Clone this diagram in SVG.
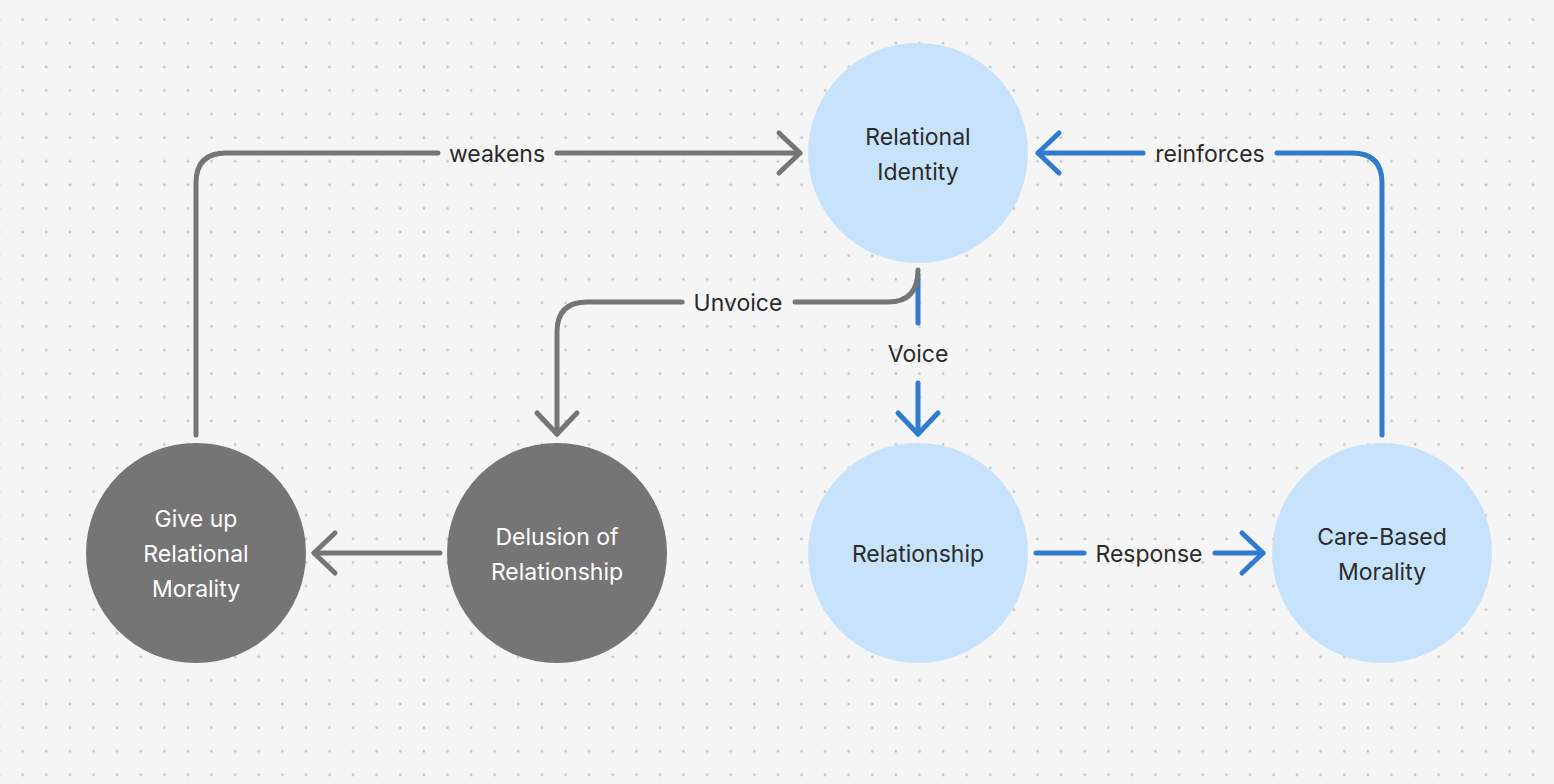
<svg xmlns="http://www.w3.org/2000/svg" width="1554" height="784" viewBox="0 0 1554 784">
<defs>
<pattern id="dots" x="-0.9" y="-3.9" width="23.6" height="23.6" patternUnits="userSpaceOnUse">
<circle cx="0" cy="0" r="1.4" fill="#c4c4c4"/>
<circle cx="23.6" cy="0" r="1.4" fill="#c4c4c4"/>
<circle cx="0" cy="23.6" r="1.4" fill="#c4c4c4"/>
<circle cx="23.6" cy="23.6" r="1.4" fill="#c4c4c4"/>
</pattern>
<marker id="ag" markerUnits="userSpaceOnUse" orient="auto" refX="0" refY="0" markerWidth="50" markerHeight="50" overflow="visible">
<path d="M-21,-20 L0,0 L-21,20" fill="none" stroke="#757575" stroke-width="5" stroke-linecap="round" stroke-linejoin="round"/>
</marker>
<marker id="ab" markerUnits="userSpaceOnUse" orient="auto" refX="0" refY="0" markerWidth="50" markerHeight="50" overflow="visible">
<path d="M-21,-20 L0,0 L-21,20" fill="none" stroke="#2f7bd0" stroke-width="5" stroke-linecap="round" stroke-linejoin="round"/>
</marker>
</defs>
<style>
.g{fill:none;stroke:#757575;stroke-width:5;stroke-linecap:round;stroke-linejoin:round}
.b{fill:none;stroke:#2f7bd0;stroke-width:5;stroke-linecap:round;stroke-linejoin:round}
.lb{fill:#c7e3fb}
.dk{fill:#757575}
text{font-family:Inter,"Noto Sans","Liberation Sans",sans-serif;font-size:23px;text-anchor:middle}
.tl{fill:#2b2b2b}
.tw{fill:#ffffff}
.el{fill:#2b2b2b}
</style>
<rect width="1554" height="784" fill="#f5f5f5"/>
<rect width="1554" height="784" fill="url(#dots)"/>
<g id="connectors">
<path class="g" d="M196,435 V183 Q196,153 226,153 H438"/>
<path class="g" d="M557,153 H800" marker-end="url(#ag)"/>
<text class="el" x="497" y="162">weakens</text>
<path class="b" d="M1382,435 V183 Q1382,153 1352,153 H1277"/>
<path class="b" d="M1143,153 H1038" marker-end="url(#ab)"/>
<text class="el" x="1210" y="162">reinforces</text>
<path class="b" d="M918,275 V323"/>
<path class="b" d="M918,383 V434" marker-end="url(#ab)"/>
<text class="el" x="918" y="362">Voice</text>
<path class="g" d="M918,270 Q918,302 888,302 H795"/>
<path class="g" d="M682,302 H587 Q557,302 557,332 V434" marker-end="url(#ag)"/>
<text class="el" x="738" y="311">Unvoice</text>
<path class="g" d="M440,553 H314" marker-end="url(#ag)"/>
<path class="b" d="M1036,553 H1084"/>
<path class="b" d="M1215,553 H1263" marker-end="url(#ab)"/>
<text class="el" x="1149" y="562">Response</text>
</g>
<g id="relational-identity">
<circle class="lb" cx="918" cy="153" r="110"/>
<text class="tl" x="918" y="145">Relational</text>
<text class="tl" x="918" y="180">Identity</text>
</g>
<g id="relationship">
<circle class="lb" cx="918" cy="553" r="110"/>
<text class="tl" x="918" y="562">Relationship</text>
</g>
<g id="care-based-morality">
<circle class="lb" cx="1382" cy="553" r="110"/>
<text class="tl" x="1382" y="545">Care-Based</text>
<text class="tl" x="1382" y="580">Morality</text>
</g>
<g id="delusion-of-relationship">
<circle class="dk" cx="557" cy="553" r="110"/>
<text class="tw" x="557" y="545">Delusion of</text>
<text class="tw" x="557" y="580">Relationship</text>
</g>
<g id="give-up-relational-morality">
<circle class="dk" cx="196" cy="553" r="110"/>
<text class="tw" x="196" y="527">Give up</text>
<text class="tw" x="196" y="562">Relational</text>
<text class="tw" x="196" y="597">Morality</text>
</g>
</svg>
